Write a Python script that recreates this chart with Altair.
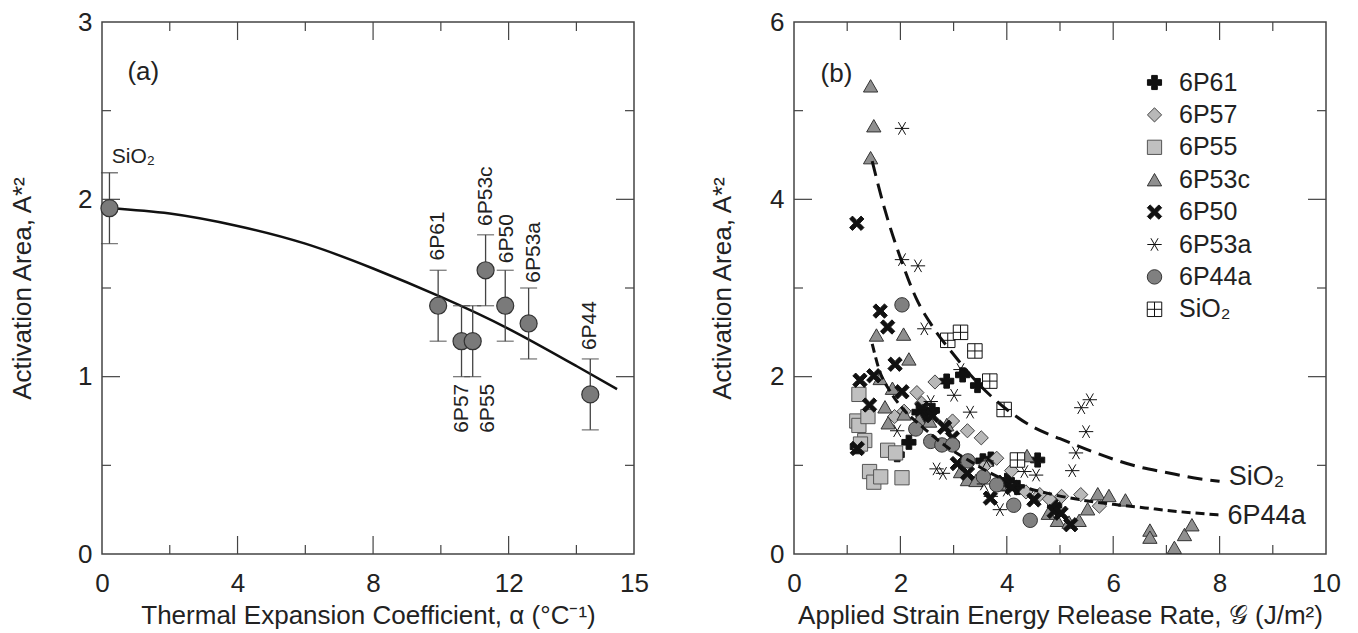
import altair as alt
import pandas as pd

FONT = "Liberation Sans"
TXT = "#222222"
FRAME = "#444444"

# ---------------- Panel (a) data ----------------
a_names = ["SiO₂", "6P61", "6P57", "6P55", "6P53c", "6P50", "6P53a", "6P44"]
a_alpha = [0.22, 9.92, 10.61, 10.94, 11.32, 11.90, 12.59, 14.41]
a_area = [1.95, 1.40, 1.20, 1.20, 1.60, 1.40, 1.30, 0.90]
a_err = [0.20, 0.20, 0.20, 0.20, 0.20, 0.20, 0.20, 0.20]

a_fit_x = [0.22, 2.0, 4.0, 6.0, 8.0, 10.0, 12.0, 14.0, 15.2]
a_fit_y = [1.95, 1.92, 1.85, 1.75, 1.61, 1.45, 1.27, 1.06, 0.93]

a_up_text = ["6P61", "6P53c", "6P50", "6P53a", "6P44"]
a_up_x = [9.92, 11.32, 11.94, 12.76, 14.41]
a_up_y = [1.655, 1.85, 1.64, 1.53, 1.15]
a_dn_text = ["6P57", "6P55"]
a_dn_x = [10.63, 11.38]
a_dn_y = [0.96, 0.96]

a_x_major = [4, 8, 12]
a_x_minor = [2, 6, 10, 14]
a_y_major = [1, 2]
a_y_minor = [0.5, 1.5, 2.5]
a_x_labels = [0, 4, 8, 12, 15.7]
a_y_labels = [0, 1, 2, 3]

# ---------------- Panel (b) data ----------------
series_order = ["6P61", "6P57", "6P55", "6P53c", "6P50", "6P53a", "6P44a", "SiO₂"]

b_6P61 = [(1.19, 1.21), (1.94, 1.12), (2.16, 1.26), (2.35, 1.60), (2.45, 1.55), (2.60, 1.62),
          (2.87, 1.95), (3.17, 2.02), (3.45, 1.90), (3.55, 1.05), (3.70, 1.07), (4.01, 0.83),
          (4.20, 0.75), (4.58, 1.06), (4.90, 0.55)]
b_6P57 = [(1.89, 1.55), (2.07, 1.61), (2.31, 1.82), (2.65, 1.94), (2.40, 1.70), (2.98, 1.50),
          (3.26, 1.39), (3.52, 1.31), (3.81, 1.08), (3.60, 1.00), (4.09, 0.94), (4.36, 0.70),
          (4.62, 0.67), (4.80, 0.62), (5.03, 0.65), (5.39, 0.67), (5.74, 0.54)]
b_6P55 = [(1.22, 1.80), (1.18, 1.50), (1.22, 1.45), (1.39, 1.55), (1.33, 1.28), (1.25, 1.24),
          (1.76, 1.17), (1.91, 1.14), (1.42, 0.93), (1.50, 0.81), (1.63, 0.87), (2.03, 0.86)]
b_6P53c = [(1.44, 5.28), (1.50, 4.83), (1.44, 4.47), (1.55, 2.47), (2.06, 2.48), (2.16, 2.20),
           (1.62, 1.98), (1.85, 1.87), (1.71, 1.66), (1.77, 1.48), (2.07, 1.58), (2.35, 1.52),
           (2.55, 1.50), (2.87, 1.46), (3.13, 0.93), (3.26, 0.84), (3.42, 0.83), (3.90, 0.78),
           (4.38, 1.11), (4.78, 0.46), (4.95, 0.38), (5.17, 0.36), (5.36, 0.38), (5.52, 0.51),
           (5.71, 0.68), (5.92, 0.66), (6.23, 0.61), (6.69, 0.27), (6.69, 0.19), (7.15, 0.075),
           (7.34, 0.22), (7.48, 0.33)]
b_6P50 = [(1.18, 3.73), (1.62, 2.74), (1.76, 2.56), (1.90, 2.14), (1.24, 1.96), (1.50, 2.01),
          (2.03, 1.83), (1.42, 1.68), (1.19, 1.19), (2.41, 1.64), (2.60, 1.56), (2.83, 1.43),
          (2.98, 1.31), (3.07, 1.02), (3.26, 0.91), (3.69, 0.63), (3.95, 0.81), (4.10, 0.75),
          (4.51, 0.61), (4.89, 0.48), (5.02, 0.46), (5.20, 0.33)]
b_6P53a = [(2.03, 4.80), (2.03, 3.32), (2.33, 3.25), (2.45, 2.54), (3.13, 2.08), (3.01, 1.79),
           (3.31, 1.60), (1.94, 1.39), (2.57, 1.72), (2.35, 1.62), (2.68, 0.96), (2.80, 0.91),
           (3.57, 0.79), (3.70, 0.65), (3.87, 0.50), (4.33, 0.93), (4.55, 0.89), (4.00, 0.72),
           (5.23, 0.94), (5.30, 1.14), (5.40, 1.65), (5.56, 1.74), (5.49, 1.38), (3.62, 1.05)]
b_6P44a = [(2.03, 2.81), (2.29, 1.41), (2.57, 1.27), (2.78, 1.23), (2.98, 1.23), (3.27, 1.05),
           (3.56, 0.87), (3.81, 0.78), (4.13, 0.55), (4.44, 0.38)]
b_SiO2 = [(2.89, 2.41), (3.13, 2.50), (3.40, 2.29), (3.68, 1.95), (3.95, 1.63), (4.20, 1.06)]

b_fit_sio2_x = [1.47, 1.7, 2.0, 2.3, 2.6, 3.0, 3.5, 4.0, 4.5, 5.0, 5.5, 6.0, 6.5, 7.0, 7.5, 8.0]
b_fit_sio2_y = [4.43, 3.90, 3.34, 2.88, 2.57, 2.25, 1.90, 1.63, 1.43, 1.30, 1.18, 1.07, 0.98, 0.92, 0.86, 0.82]
b_fit_44a_x = [1.47, 1.6, 1.8, 2.0, 2.4, 2.8, 3.3, 3.8, 4.3, 4.8, 5.4, 6.0, 6.6, 7.2, 8.0]
b_fit_44a_y = [2.37, 2.08, 1.84, 1.67, 1.44, 1.24, 1.05, 0.88, 0.76, 0.68, 0.61, 0.56, 0.52, 0.48, 0.44]

b_curve_text = ["SiO₂", "6P44a"]
b_curve_x = [8.17, 8.15]
b_curve_y = [0.87, 0.43]

b_x_major = [2, 4, 6, 8]
b_x_minor = [1, 3, 5, 7, 9]
b_y_major = [2, 4]
b_y_minor = [1, 3, 5]
b_x_labels = [0, 2, 4, 6, 8, 10]
b_y_labels = [0, 2, 4, 6]

# ---------------- helpers ----------------
W = 532
H = 532
MAJ = 18
MIN = 9

ASTER = "M-1,0L1,0M-0.5,-0.87L0.5,0.87M-0.5,0.87L0.5,-0.87"
XSHAPE = "M-1,-0.6L-0.6,-1L0,-0.4L0.6,-1L1,-0.6L0.4,0L1,0.6L0.6,1L0,0.4L-0.6,1L-1,0.6L-0.4,0Z"
BOXPLUS = "M-1,-1L1,-1L1,1L-1,1Z M0,-1L0,1 M-1,0L1,0"


def axis(values, title, title_pad, label_pad, label_expr=None):
    kw = dict(values=values, title=title, ticks=False, tickSize=0, domain=False, grid=False,
              labelPadding=label_pad, labelFontSize=26, titleFontSize=26, titleFontWeight="normal",
              titlePadding=title_pad, labelFlush=False, labelColor=TXT, titleColor=TXT,
              labelFont=FONT, titleFont=FONT, labelOverlap=False)
    if label_expr:
        kw["labelExpr"] = label_expr
    return alt.Axis(**kw)


def tick_layers(X, Y, x_major, x_minor, y_major, y_minor):
    layers = []
    for vals, ln in ((x_major, MAJ), (x_minor, MIN)):
        df = pd.DataFrame({"v": vals})
        base = alt.Chart(df).mark_rule(color=FRAME, strokeWidth=1.2)
        layers.append(base.encode(x=X("v"), y=alt.value(H), y2=alt.value(H - ln)))
        layers.append(base.encode(x=X("v"), y=alt.value(0), y2=alt.value(ln)))
    for vals, ln in ((y_major, MAJ), (y_minor, MIN)):
        df = pd.DataFrame({"v": vals})
        base = alt.Chart(df).mark_rule(color=FRAME, strokeWidth=1.2)
        layers.append(base.encode(y=Y("v"), x=alt.value(0), x2=alt.value(ln)))
        layers.append(base.encode(y=Y("v"), x=alt.value(W), x2=alt.value(W - ln)))
    return layers


# ---------------- Panel (a) ----------------
xa_title = "Thermal Expansion Coefficient, α (°C⁻¹)"
ya_title = "Activation Area, A*²"
xa_scale = alt.Scale(domain=[0, 15.7], nice=False, zero=False)
ya_scale = alt.Scale(domain=[0, 3], nice=False, zero=False)
xa_axis = axis(a_x_labels, xa_title, 6, 16, "datum.value > 15 ? '15' : datum.label")
ya_axis = axis(a_y_labels, ya_title, 42, 10)


def XA(f):
    return alt.X(f"{f}:Q", scale=xa_scale, axis=xa_axis, title=xa_title)


def YA(f):
    return alt.Y(f"{f}:Q", scale=ya_scale, axis=ya_axis, title=ya_title)


dfa = pd.DataFrame({"name": a_names, "alpha": a_alpha, "area": a_area, "err": a_err})
dfa["lo"] = dfa["area"] - dfa["err"]
dfa["hi"] = dfa["area"] + dfa["err"]

fit_a = alt.Chart(pd.DataFrame({"x": a_fit_x, "y": a_fit_y})).mark_line(
    color="#111111", strokeWidth=2.5, interpolate="natural").encode(x=XA("x"), y=YA("y"))

err_a = alt.Chart(dfa).mark_rule(color=FRAME, strokeWidth=1.3).encode(
    x=XA("alpha"), y=YA("lo"), y2="hi:Q")
cap_lo = alt.Chart(dfa).mark_tick(color=FRAME, orient="horizontal", size=17, thickness=1.3).encode(
    x=XA("alpha"), y=YA("lo"))
cap_hi = alt.Chart(dfa).mark_tick(color=FRAME, orient="horizontal", size=17, thickness=1.3).encode(
    x=XA("alpha"), y=YA("hi"))

pts_a = alt.Chart(dfa).mark_point(filled=True, shape="circle", size=290, fill="#7a7a7a",
                                  stroke="#333333", strokeWidth=1.2, opacity=1).encode(
    x=XA("alpha"), y=YA("area"))

lab_up = alt.Chart(pd.DataFrame({"t": a_up_text, "x": a_up_x, "y": a_up_y})).mark_text(
    angle=270, align="left", baseline="middle", fontSize=21, font=FONT, color=TXT).encode(
    x=XA("x"), y=YA("y"), text="t:N")
lab_dn = alt.Chart(pd.DataFrame({"t": a_dn_text, "x": a_dn_x, "y": a_dn_y})).mark_text(
    angle=270, align="right", baseline="middle", fontSize=21, font=FONT, color=TXT).encode(
    x=XA("x"), y=YA("y"), text="t:N")
lab_sio2 = alt.Chart(pd.DataFrame({"t": ["SiO₂"], "x": [0.29], "y": [2.236]})).mark_text(
    align="left", baseline="middle", fontSize=21, font=FONT, color=TXT).encode(
    x=XA("x"), y=YA("y"), text="t:N")
lab_a = alt.Chart(pd.DataFrame({"t": ["(a)"], "x": [0.75], "y": [2.72]})).mark_text(
    align="left", baseline="middle", fontSize=26, font=FONT, color=TXT).encode(
    x=XA("x"), y=YA("y"), text="t:N")

panel_a = alt.layer(*tick_layers(XA, YA, a_x_major, a_x_minor, a_y_major, a_y_minor),
                    fit_a, err_a, cap_lo, cap_hi, pts_a, lab_up, lab_dn, lab_sio2, lab_a
                    ).properties(width=W, height=H)

# ---------------- Panel (b) ----------------
xb_scale = alt.Scale(domain=[0, 10], nice=False, zero=False)
yb_scale = alt.Scale(domain=[0, 6], nice=False, zero=False)
xb_title = "Applied Strain Energy Release Rate,  𝒢 (J/m²)"
xb_axis = axis(b_x_labels, xb_title, 6, 16)
yb_axis = axis(b_y_labels, ya_title, 34, 10)


def XB(f):
    return alt.X(f"{f}:Q", scale=xb_scale, axis=xb_axis, title=xb_title)


def YB(f):
    return alt.Y(f"{f}:Q", scale=yb_scale, axis=yb_axis, title=ya_title)


rows = []
for name, pts in zip(series_order, [b_6P61, b_6P57, b_6P55, b_6P53c, b_6P50, b_6P53a, b_6P44a, b_SiO2]):
    for gx, ay in pts:
        rows.append({"series": name, "g": gx, "A": ay})
dfb = pd.DataFrame(rows)

leg = alt.Legend(title=None, orient="none", legendX=1040, legendY=48, labelFontSize=25,
                 labelFont=FONT, labelColor=TXT, symbolSize=170,
                 rowPadding=6.4, labelOffset=12, symbolOpacity=1)

shape_sc = alt.Scale(domain=series_order,
                     range=["cross", "diamond", "square", "triangle-up", XSHAPE, ASTER, "circle", BOXPLUS])
fill_sc = alt.Scale(domain=series_order,
                    range=["#111111", "#b8b8b8", "#c0c0c0", "#8f8f8f", "#111111", "#111111", "#808080", "#ffffff"])
stroke_sc = alt.Scale(domain=series_order,
                      range=["#111111", "#444444", "#555555", "#333333", "#111111", "#111111", "#333333", "#111111"])
sw_sc = alt.Scale(domain=series_order, range=[1, 1, 1, 1, 1, 2.3, 1, 1.8])
size_sc = alt.Scale(domain=series_order, range=[200, 210, 190, 230, 180, 230, 200, 180])

pts_b = alt.Chart(dfb).mark_point(filled=True, opacity=1).encode(
    x=XB("g"), y=YB("A"),
    shape=alt.Shape("series:N", scale=shape_sc, legend=leg, sort=series_order),
    fill=alt.Fill("series:N", scale=fill_sc, legend=leg, sort=series_order),
    stroke=alt.Stroke("series:N", scale=stroke_sc, legend=leg, sort=series_order),
    strokeWidth=alt.StrokeWidth("series:N", scale=sw_sc, legend=leg, sort=series_order),
    size=alt.Size("series:N", scale=size_sc, legend=leg, sort=series_order),
)

fit_b1 = alt.Chart(pd.DataFrame({"x": b_fit_sio2_x, "y": b_fit_sio2_y})).mark_line(
    color="#111111", strokeWidth=3, strokeDash=[15, 8], interpolate="monotone").encode(
    x=XB("x"), y=YB("y"))
fit_b2 = alt.Chart(pd.DataFrame({"x": b_fit_44a_x, "y": b_fit_44a_y})).mark_line(
    color="#111111", strokeWidth=3, strokeDash=[9, 5], interpolate="monotone").encode(
    x=XB("x"), y=YB("y"))

lab_curve = alt.Chart(pd.DataFrame({"t": b_curve_text, "x": b_curve_x, "y": b_curve_y})).mark_text(
    align="left", baseline="middle", fontSize=27, font=FONT, color=TXT).encode(
    x=XB("x"), y=YB("y"), text="t:N")
lab_b = alt.Chart(pd.DataFrame({"t": ["(b)"], "x": [0.50], "y": [5.41]})).mark_text(
    align="left", baseline="middle", fontSize=26, font=FONT, color=TXT).encode(
    x=XB("x"), y=YB("y"), text="t:N")

panel_b = alt.layer(*tick_layers(XB, YB, b_x_major, b_x_minor, b_y_major, b_y_minor),
                    pts_b, fit_b1, fit_b2, lab_curve, lab_b).properties(width=W, height=H)

chart = alt.hconcat(panel_a, panel_b, spacing=58).properties(
    padding={"left": 0, "top": 0, "right": 5, "bottom": 0}
).configure(font=FONT).configure_view(stroke=FRAME, strokeWidth=1.5)

chart.save("out.html", embed_options={"renderer": "svg", "actions": False})
